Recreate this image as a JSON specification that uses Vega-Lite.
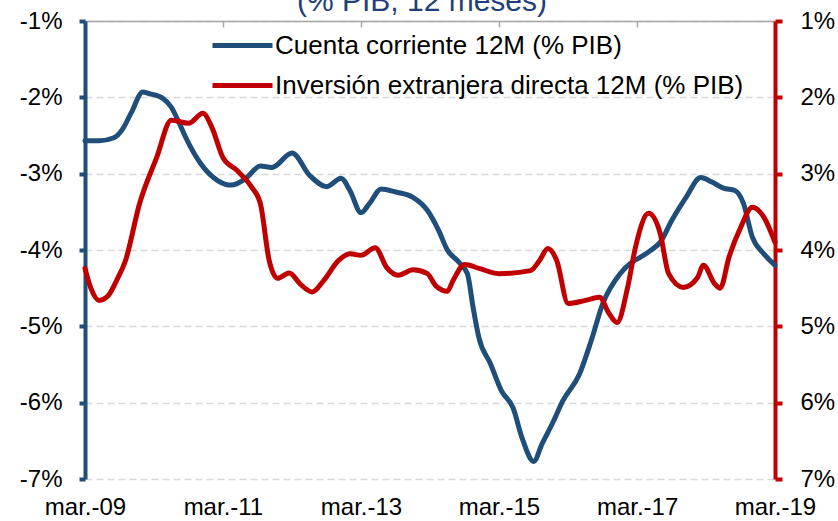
{
"$schema": "https://vega.github.io/schema/vega-lite/v6.json",
"width": 690, "height": 458,
"autosize": {"type": "none"},
"padding": {"left": 85, "top": 21, "right": 63, "bottom": 42},
"background": "white",
"config": {"view": {"stroke": null}, "font": "Liberation Sans"},
"title": {"text": "(% PIB, 12 meses)", "fontSize": 30, "fontWeight": "normal", "color": "#1F3F7A", "font": "Liberation Sans", "baseline": "alphabetic", "offset": 0, "anchor": "middle", "dx": -8, "dy": 32},
"datasets": {
"cc": [
{"date":"2009-03-01","v":-2.57},
{"date":"2009-05-15","v":-2.57},
{"date":"2009-08-01","v":-2.53},
{"date":"2009-09-15","v":-2.42},
{"date":"2009-11-01","v":-2.2},
{"date":"2010-01-01","v":-1.93},
{"date":"2010-02-01","v":-1.95},
{"date":"2010-04-15","v":-2.01},
{"date":"2010-06-01","v":-2.13},
{"date":"2010-07-15","v":-2.35},
{"date":"2010-08-15","v":-2.52},
{"date":"2010-11-01","v":-2.86},
{"date":"2011-02-01","v":-3.09},
{"date":"2011-04-15","v":-3.15},
{"date":"2011-07-01","v":-3.06},
{"date":"2011-09-15","v":-2.90},
{"date":"2011-11-15","v":-2.92},
{"date":"2012-03-01","v":-2.73},
{"date":"2012-06-01","v":-3.02},
{"date":"2012-09-01","v":-3.17},
{"date":"2012-11-15","v":-3.06},
{"date":"2013-01-01","v":-3.22},
{"date":"2013-03-01","v":-3.51},
{"date":"2013-04-15","v":-3.39},
{"date":"2013-06-15","v":-3.2},
{"date":"2013-09-01","v":-3.24},
{"date":"2013-12-01","v":-3.31},
{"date":"2014-02-15","v":-3.48},
{"date":"2014-04-15","v":-3.74},
{"date":"2014-06-01","v":-4.0},
{"date":"2014-08-01","v":-4.16},
{"date":"2014-09-15","v":-4.31},
{"date":"2014-10-15","v":-4.75},
{"date":"2014-11-15","v":-5.15},
{"date":"2015-01-15","v":-5.49},
{"date":"2015-03-15","v":-5.85},
{"date":"2015-05-15","v":-6.07},
{"date":"2015-07-01","v":-6.46},
{"date":"2015-09-01","v":-6.77},
{"date":"2015-10-15","v":-6.54},
{"date":"2015-12-15","v":-6.24},
{"date":"2016-02-01","v":-5.98},
{"date":"2016-05-01","v":-5.62},
{"date":"2016-07-01","v":-5.19},
{"date":"2016-09-01","v":-4.70},
{"date":"2016-12-01","v":-4.31},
{"date":"2017-02-01","v":-4.16},
{"date":"2017-03-15","v":-4.10},
{"date":"2017-05-15","v":-4.0},
{"date":"2017-07-01","v":-3.9},
{"date":"2017-09-01","v":-3.61},
{"date":"2017-11-15","v":-3.31},
{"date":"2018-02-01","v":-3.05},
{"date":"2018-04-01","v":-3.11},
{"date":"2018-06-01","v":-3.19},
{"date":"2018-08-01","v":-3.22},
{"date":"2018-09-15","v":-3.39},
{"date":"2018-11-01","v":-3.83},
{"date":"2019-01-01","v":-4.05},
{"date":"2019-03-01","v":-4.2}
],
"ied": [
{"date":"2009-03-01","v":4.24},
{"date":"2009-04-01","v":4.5},
{"date":"2009-05-15","v":4.66},
{"date":"2009-07-01","v":4.6},
{"date":"2009-08-15","v":4.4},
{"date":"2009-10-01","v":4.14},
{"date":"2009-12-15","v":3.39},
{"date":"2010-03-15","v":2.79},
{"date":"2010-06-01","v":2.30},
{"date":"2010-09-01","v":2.34},
{"date":"2010-11-15","v":2.21},
{"date":"2011-01-01","v":2.39},
{"date":"2011-03-01","v":2.79},
{"date":"2011-05-15","v":2.96},
{"date":"2011-08-01","v":3.18},
{"date":"2011-09-15","v":3.39},
{"date":"2011-11-01","v":4.14},
{"date":"2011-12-15","v":4.37},
{"date":"2012-02-15","v":4.3},
{"date":"2012-04-15","v":4.45},
{"date":"2012-06-15","v":4.55},
{"date":"2012-08-15","v":4.4},
{"date":"2012-11-01","v":4.14},
{"date":"2013-01-01","v":4.05},
{"date":"2013-03-01","v":4.07},
{"date":"2013-05-15","v":3.97},
{"date":"2013-07-15","v":4.23},
{"date":"2013-09-15","v":4.33},
{"date":"2013-12-01","v":4.26},
{"date":"2014-02-15","v":4.31},
{"date":"2014-04-01","v":4.47},
{"date":"2014-06-01","v":4.54},
{"date":"2014-07-01","v":4.40},
{"date":"2014-09-01","v":4.19},
{"date":"2014-11-15","v":4.24},
{"date":"2015-03-01","v":4.31},
{"date":"2015-08-15","v":4.27},
{"date":"2015-10-01","v":4.14},
{"date":"2015-11-15","v":3.98},
{"date":"2016-01-01","v":4.14},
{"date":"2016-03-01","v":4.70},
{"date":"2016-06-01","v":4.66},
{"date":"2016-08-15","v":4.62},
{"date":"2016-10-01","v":4.82},
{"date":"2016-11-15","v":4.95},
{"date":"2017-01-10","v":4.49},
{"date":"2017-02-20","v":3.97},
{"date":"2017-05-01","v":3.52},
{"date":"2017-07-01","v":3.78},
{"date":"2017-08-15","v":4.31},
{"date":"2017-11-01","v":4.49},
{"date":"2018-01-15","v":4.36},
{"date":"2018-02-15","v":4.2},
{"date":"2018-04-15","v":4.44},
{"date":"2018-05-15","v":4.50},
{"date":"2018-07-01","v":4.09},
{"date":"2018-09-01","v":3.70},
{"date":"2018-11-01","v":3.44},
{"date":"2019-01-01","v":3.57},
{"date":"2019-03-01","v":3.9}
]
},
"layer": [
{
"data": {"name": "cc"},
"mark": {"type": "line", "strokeWidth": 5, "interpolate": "monotone", "strokeCap": "round"},
"encoding": {
"x": {"field": "date", "type": "temporal",
"scale": {"type": "utc", "domain": [{"year": 2009, "month": 3, "date": 1, "utc": true}, {"year": 2019, "month": 3, "date": 1, "utc": true}]},
"axis": {"orient": "top", "labels": false, "title": null, "grid": false,
"domainColor": "#A6A6A6", "domainWidth": 1.5, "tickColor": "#A6A6A6", "tickWidth": 1.5, "tickSize": -6,
"values": [{"year": 2009, "month": 3, "date": 1, "utc": true}, {"year": 2011, "month": 3, "date": 1, "utc": true}, {"year": 2013, "month": 3, "date": 1, "utc": true}, {"year": 2015, "month": 3, "date": 1, "utc": true}, {"year": 2017, "month": 3, "date": 1, "utc": true}, {"year": 2019, "month": 3, "date": 1, "utc": true}]}},
"y": {"field": "v", "type": "quantitative",
"scale": {"domain": [-7, -1], "nice": false, "zero": false},
"axis": {"orient": "left", "title": null, "values": [-7, -6, -5, -4, -3, -2, -1],
"labelExpr": "datum.value + '%'", "labelFontSize": 24, "labelColor": "black", "labelFont": "Liberation Sans",
"domainColor": "#1F4E7A", "domainWidth": 4, "tickColor": "#1F4E7A", "tickWidth": 4, "tickSize": 6, "labelPadding": 17,
"grid": true, "gridColor": "#D9D9D9", "gridDash": [7, 4], "gridWidth": 1.5}},
"color": {"datum": "Cuenta corriente 12M (% PIB)",
"scale": {"domain": ["Cuenta corriente 12M (% PIB)", "Inversión extranjera directa 12M (% PIB)"], "range": ["#1F4E7A", "#C00000"]},
"legend": {"orient": "none", "legendX": 143, "legendY": 10, "title": null, "padding": 0,
"symbolType": "M-2.5,0H2.5", "symbolSize": 576, "symbolStrokeWidth": 5,
"labelFontSize": 26, "labelFont": "Liberation Sans", "labelColor": "black", "labelOffset": 18, "rowPadding": 12, "labelLimit": 0}}
}
},
{
"data": {"name": "ied"},
"mark": {"type": "line", "strokeWidth": 5, "interpolate": "monotone", "strokeCap": "round"},
"encoding": {
"x": {"field": "date", "type": "temporal",
"axis": {"orient": "bottom", "title": null, "grid": false, "domain": false, "ticks": false, "tickSize": 0,
"labelPadding": 16, "labelFontSize": 24, "labelColor": "black", "labelFont": "Liberation Sans",
"labelExpr": "'mar.-' + utcFormat(datum.value, '%y')", "labelOverlap": false, "labelFlush": false, "labelBound": false,
"values": [{"year": 2009, "month": 3, "date": 1, "utc": true}, {"year": 2011, "month": 3, "date": 1, "utc": true}, {"year": 2013, "month": 3, "date": 1, "utc": true}, {"year": 2015, "month": 3, "date": 1, "utc": true}, {"year": 2017, "month": 3, "date": 1, "utc": true}, {"year": 2019, "month": 3, "date": 1, "utc": true}]}},
"y": {"field": "v", "type": "quantitative",
"scale": {"domain": [1, 7], "reverse": true, "nice": false, "zero": false},
"axis": {"orient": "right", "title": null, "values": [1, 2, 3, 4, 5, 6, 7], "grid": false,
"labelExpr": "datum.value + '%'", "labelFontSize": 24, "labelColor": "black", "labelFont": "Liberation Sans",
"domainColor": "#C00000", "domainWidth": 4, "tickColor": "#C00000", "tickWidth": 4, "tickSize": 7, "labelPadding": 18}},
"color": {"datum": "Inversión extranjera directa 12M (% PIB)"}
}
}
],
"resolve": {"scale": {"y": "independent"}, "axis": {"x": "independent", "y": "independent"}}
}
